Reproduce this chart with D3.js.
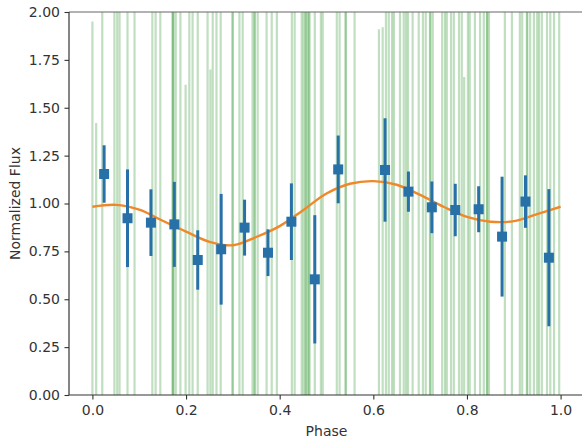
<!DOCTYPE html>
<html>
<head>
<meta charset="utf-8">
<script src="https://cdn.jsdelivr.net/npm/d3@7"></script>
<style>
  html, body { margin: 0; padding: 0; background: #fff; }
  svg { display: block; font-family: "DejaVu Sans", sans-serif; }
</style>
</head>
<body>
<svg id="chart" width="582" height="440"></svg>
<script>
// Individual phase-folded measurements (large uncertainties)
const obsPhase = [0.000, 0.008, 0.021, 0.047, 0.053, 0.058, 0.075, 0.090, 0.128, 0.135,
  0.145, 0.171, 0.173, 0.178, 0.188, 0.199, 0.207, 0.214, 0.225, 0.246,
  0.252, 0.257, 0.265, 0.274, 0.299, 0.314, 0.321, 0.342, 0.347, 0.353,
  0.372, 0.383, 0.394, 0.426, 0.432, 0.447, 0.451, 0.456, 0.460, 0.464,
  0.475, 0.488, 0.492, 0.522, 0.528, 0.541, 0.560, 0.612, 0.620, 0.627,
  0.633, 0.640, 0.644, 0.657, 0.665, 0.670, 0.674, 0.684, 0.697, 0.706,
  0.712, 0.721, 0.727, 0.747, 0.753, 0.757, 0.766, 0.772, 0.783, 0.789,
  0.794, 0.802, 0.806, 0.817, 0.828, 0.836, 0.843, 0.847, 0.881, 0.896,
  0.913, 0.918, 0.928, 0.935, 0.943, 0.954, 0.960, 0.971, 0.978, 0.986, 0.997,
  0.172, 0.346, 0.455, 0.462, 0.541, 0.722, 0.929, 0.950, 0.300, 0.843];
const obsFlux = [0.90, 0.30, 1.10, 0.80, 1.20, 0.70, 1.00, 0.95, 1.30, 0.60,
  1.05, 0.90, 1.10, 0.75, 1.20, 0.45, 1.00, 0.85, 0.70, 1.15,
  0.50, 0.90, 0.80, 1.05, 0.65, 1.10, 0.95, 0.85, 1.20, 0.70,
  0.90, 1.00, 0.80, 0.60, 1.10, 0.95, 0.70, 1.05, 0.85, 1.20,
  0.55, 1.00, 0.90, 1.15, 1.30, 1.05, 1.20, 0.79, 0.80, 1.25,
  1.10, 0.95, 1.20, 1.00, 1.05, 0.90, 1.15, 0.95, 1.00, 1.10,
  0.85, 0.95, 1.05, 0.90, 1.00, 1.10, 0.95, 0.85, 1.00, 0.90,
  0.50, 1.05, 0.95, 0.80, 1.10, 0.90, 1.00, 0.85, 0.70, 1.00,
  0.95, 1.05, 0.90, 1.10, 0.85, 1.00, 0.95, 0.60, 0.75, 1.05, 0.90,
  1.00, 0.90, 1.10, 0.80, 1.00, 0.95, 1.05, 0.85, 1.10, 0.95];
const obsErr = [1.05, 1.12, 2.5, 2.5, 2.5, 2.5, 2.5, 2.5, 2.5, 2.5,
  2.5, 2.5, 2.5, 2.5, 2.5, 1.17, 2.5, 2.5, 2.5, 2.5,
  1.20, 2.5, 2.5, 2.5, 2.5, 2.5, 2.5, 2.5, 2.5, 2.5,
  2.5, 2.5, 2.5, 2.5, 2.5, 2.5, 2.5, 2.5, 2.5, 2.5,
  2.5, 2.5, 2.5, 2.5, 2.5, 2.5, 2.5, 1.12, 1.12, 2.5,
  2.5, 2.5, 2.5, 2.5, 2.5, 2.5, 2.5, 2.5, 2.5, 2.5,
  2.5, 2.5, 2.5, 2.5, 2.5, 2.5, 2.5, 2.5, 2.5, 2.5,
  1.16, 2.5, 2.5, 2.5, 2.5, 2.5, 2.5, 2.5, 2.5, 2.5,
  2.5, 2.5, 2.5, 2.5, 2.5, 2.5, 2.5, 2.5, 2.5, 2.5, 2.5,
  2.5, 2.5, 2.5, 2.5, 2.5, 2.5, 2.5, 2.5, 2.5, 2.5];

// Binned averages
const binPhase = [0.025, 0.075, 0.125, 0.175, 0.225, 0.275, 0.325, 0.375, 0.425, 0.475,
  0.525, 0.625, 0.675, 0.725, 0.775, 0.825, 0.875, 0.925, 0.975];
const binFlux = [1.154, 0.923, 0.900, 0.891, 0.705, 0.761, 0.874, 0.743, 0.905, 0.604,
  1.178, 1.175, 1.062, 0.980, 0.966, 0.970, 0.827, 1.010, 0.717];
const binErr = [0.150, 0.255, 0.174, 0.222, 0.155, 0.289, 0.146, 0.122, 0.200, 0.335,
  0.177, 0.270, 0.105, 0.135, 0.137, 0.120, 0.313, 0.137, 0.358];

// Sinusoidal model curve
const modelPhase = [0.00, 0.05, 0.10, 0.15, 0.20, 0.25, 0.30, 0.35, 0.40, 0.45, 0.50,
  0.55, 0.60, 0.65, 0.70, 0.75, 0.80, 0.85, 0.90, 0.95, 1.00];
const modelFlux = [0.983, 0.993, 0.968, 0.910, 0.853, 0.800, 0.782, 0.825, 0.882, 0.965, 1.052,
  1.103, 1.117, 1.098, 1.045, 0.983, 0.930, 0.905, 0.908, 0.945, 0.983];

const xTicks = [0.0, 0.2, 0.4, 0.6, 0.8, 1.0];
const yTicks = [0.00, 0.25, 0.50, 0.75, 1.00, 1.25, 1.50, 1.75, 2.00];

const svg = d3.select("#chart");
const plotLeft = 69, plotRight = 584, plotTop = 12, plotBottom = 395;

const x = d3.scaleLinear().domain([-0.05, 1.05]).range([plotLeft, plotRight]);
const y = d3.scaleLinear().domain([0, 2]).range([plotBottom, plotTop]);

svg.append("defs").append("clipPath").attr("id", "plotclip")
  .append("rect").attr("x", plotLeft).attr("y", plotTop)
  .attr("width", plotRight - plotLeft).attr("height", plotBottom - plotTop);

const plot = svg.append("g").attr("clip-path", "url(#plotclip)");

// Individual measurement error bars
const obs = obsPhase.map((p, i) => ({p, f: obsFlux[i], e: obsErr[i]}));
plot.append("g").selectAll("line").data(obs).join("line")
  .attr("x1", d => x(d.p)).attr("x2", d => x(d.p))
  .attr("y1", d => y(d.f - d.e)).attr("y2", d => y(d.f + d.e))
  .attr("stroke", "#3a9a3a").attr("stroke-opacity", 0.32)
  .attr("stroke-width", 2.2);

// Model curve
const line = d3.line().x(d => x(d[0])).y(d => y(d[1])).curve(d3.curveCatmullRom.alpha(0.5));
plot.append("path").datum(modelPhase.map((p, i) => [p, modelFlux[i]]))
  .attr("d", line).attr("fill", "none")
  .attr("stroke", "#f0882a").attr("stroke-width", 2.4);

// Binned points with error bars
const bins = binPhase.map((p, i) => ({p, f: binFlux[i], e: binErr[i]}));
const blue = "#2870a8";
const bg = plot.append("g");
bg.selectAll("line").data(bins).join("line")
  .attr("x1", d => x(d.p)).attr("x2", d => x(d.p))
  .attr("y1", d => y(d.f - d.e)).attr("y2", d => y(d.f + d.e))
  .attr("stroke", blue).attr("stroke-width", 3);
bg.selectAll("rect").data(bins).join("rect")
  .attr("x", d => x(d.p) - 5).attr("y", d => y(d.f) - 5)
  .attr("width", 10).attr("height", 10).attr("fill", blue);

// Axes
const xAxis = d3.axisBottom(x).tickValues(xTicks).tickFormat(d3.format(".1f")).tickSize(4.5).tickPadding(6);
const yAxis = d3.axisLeft(y).tickValues(yTicks).tickFormat(d3.format(".2f")).tickSize(4.5).tickPadding(4.5);

const gx = svg.append("g").attr("transform", `translate(0,${plotBottom})`).call(xAxis);
const gy = svg.append("g").attr("transform", `translate(${plotLeft},0)`).call(yAxis);
[gx, gy].forEach(g => {
  g.select(".domain").remove();
  g.selectAll(".tick line").attr("stroke", "#333").attr("stroke-width", 1.1);
  g.selectAll(".tick text").attr("fill", "#333").attr("font-size", 14)
    .attr("font-family", "DejaVu Sans, sans-serif");
});

// Spines
svg.append("line").attr("x1", plotLeft).attr("x2", plotRight).attr("y1", plotTop).attr("y2", plotTop)
  .attr("stroke", "#666").attr("stroke-width", 1.2);
svg.append("line").attr("x1", plotLeft).attr("x2", plotLeft).attr("y1", plotTop).attr("y2", plotBottom)
  .attr("stroke", "#333").attr("stroke-width", 1.2);
svg.append("line").attr("x1", plotLeft).attr("x2", plotRight).attr("y1", plotBottom).attr("y2", plotBottom)
  .attr("stroke", "#333").attr("stroke-width", 1.2);

// Axis labels
svg.append("text").attr("x", (plotLeft + plotRight) / 2).attr("y", 436)
  .attr("text-anchor", "middle").attr("font-size", 14).attr("fill", "#333")
  .text("Phase");
svg.append("text").attr("transform", `translate(20,${(plotTop + plotBottom) / 2}) rotate(-90)`)
  .attr("text-anchor", "middle").attr("font-size", 14).attr("fill", "#333")
  .text("Normalized Flux");
</script>
</body>
</html>
